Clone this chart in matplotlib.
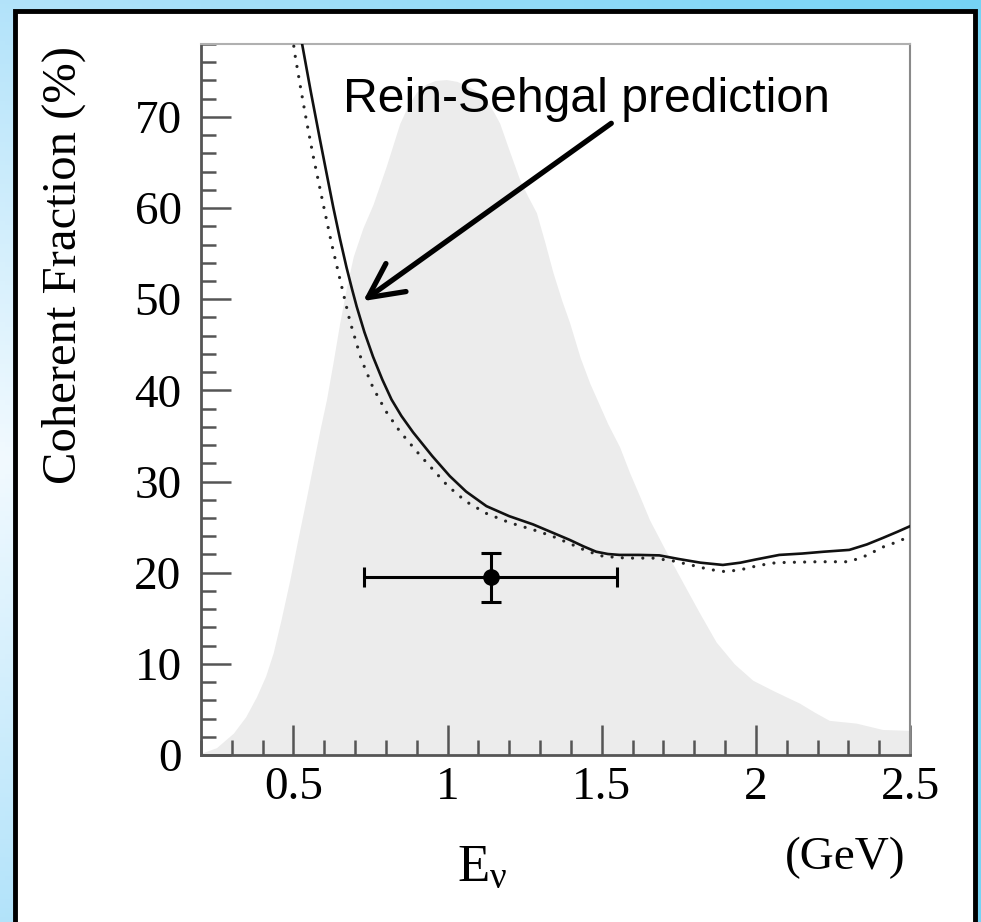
import matplotlib
matplotlib.use('Agg')
import matplotlib.pyplot as plt
import numpy as np
from matplotlib.patches import Rectangle
from matplotlib.ticker import MultipleLocator, FixedLocator

# ---- data ----
flux_E = [0.20, 0.25, 0.305, 0.345, 0.38, 0.41, 0.434, 0.46, 0.488, 0.515, 0.543, 0.566,
          0.586, 0.607, 0.628, 0.65, 0.672, 0.694, 0.725, 0.758, 0.80, 0.845, 0.875,
          0.899, 0.93, 0.96, 0.996, 1.03, 1.07, 1.10, 1.126, 1.15, 1.169, 1.20, 1.234,
          1.26, 1.288, 1.315, 1.342, 1.37, 1.396, 1.43, 1.461, 1.482, 1.52, 1.558, 1.59,
          1.623, 1.655, 1.72, 1.77, 1.817, 1.871, 1.93, 1.99, 2.06, 2.141, 2.19, 2.238,
          2.325, 2.411, 2.5]
flux_Y = [0.2, 0.8, 2.4, 4.2, 6.4, 8.7, 11.2, 14.9, 19.2, 23.8, 28.4, 32.3,
          35.7, 39.0, 43.0, 47.4, 51.3, 54.7, 57.8, 60.4, 64.5, 69.3, 71.5,
          72.7, 73.6, 74.0, 74.1, 73.9, 73.3, 72.7, 71.8, 70.5, 69.3, 66.3, 63.1,
          61.3, 59.5, 56.3, 52.9, 49.9, 47.4, 43.6, 40.8, 39.2, 36.3, 33.8, 31.0,
          28.4, 25.8, 21.6, 18.5, 15.6, 12.4, 10.0, 8.2, 7.0, 5.7, 4.7, 3.8,
          3.5, 2.8, 2.7]

rs_E = [0.515, 0.528, 0.556, 0.586, 0.608, 0.629, 0.651, 0.672, 0.690, 0.705, 0.730,
        0.758, 0.788, 0.818, 0.850, 0.888, 0.95, 1.007, 1.06, 1.126, 1.2, 1.277, 1.34,
        1.396, 1.44, 1.482, 1.52, 1.558, 1.62, 1.687, 1.75, 1.82, 1.893, 1.95, 2.0,
        2.076, 2.15, 2.22, 2.303, 2.36, 2.411, 2.46, 2.5]
rs_Y = [80.5, 78.0, 72.8, 67.5, 63.7, 60.1, 56.6, 53.5, 51.1, 49.2, 46.4,
        43.7, 41.2, 39.0, 37.2, 35.4, 32.8, 30.6, 28.9, 27.3, 26.2, 25.3, 24.4,
        23.6, 22.9, 22.3, 22.05, 21.95, 21.95, 21.9, 21.5, 21.1, 20.85, 21.1, 21.45,
        21.95, 22.1, 22.3, 22.5, 23.1, 23.8, 24.5, 25.1]

dot_E = [0.495, 0.502, 0.521, 0.542, 0.564, 0.596, 0.623, 0.65, 0.683, 0.72, 0.758,
         0.80, 0.845, 0.91, 1.001, 1.06, 1.126, 1.2, 1.288, 1.34, 1.396, 1.45, 1.504,
         1.58, 1.666, 1.73, 1.795, 1.85, 1.904, 1.96, 2.01, 2.066, 2.2, 2.303, 2.36,
         2.411, 2.46, 2.5]
dot_Y = [80.0, 77.4, 73.6, 69.6, 65.7, 60.5, 56.2, 52.3, 47.6, 43.4, 40.3,
         37.7, 35.5, 32.9, 29.5, 27.8, 26.5, 25.5, 24.6, 24.0, 23.2, 22.4, 21.8,
         21.6, 21.6, 21.3, 20.8, 20.35, 20.1, 20.4, 20.8, 21.1, 21.2, 21.2, 21.9,
         22.8, 23.4, 24.0]

meas_E = [1.14]
meas_Y = [19.5]
meas_Eerr = [0.41]
meas_Yerr = [[2.7], [2.7]]

x_ticks = [0.5, 1.0, 1.5, 2.0, 2.5]
x_ticklabels = ['0.5', '1', '1.5', '2', '2.5']
y_ticks = [0, 10, 20, 30, 40, 50, 60, 70]
y_ticklabels = ['0', '10', '20', '30', '40', '50', '60', '70']

annot_text = 'Rein-Sehgal prediction'
annot_xy = (0.726, 49.8)
annot_tail = (1.531, 69.3)

# ---- figure ----
W, H = 981, 922
fig = plt.figure(figsize=(W / 100, H / 100), dpi=100)

# blue gradient background
bg = fig.add_axes([0, 0, 1, 1], zorder=-10)
bg.set_axis_off()
yy, xx = np.mgrid[0:1:200j, 0:1:200j]
c_light = np.array([0.70, 0.89, 0.98])
c_white = np.array([0.95, 0.98, 1.0])
c_cyan = np.array([0.30, 0.79, 0.95])
t_vert = np.abs(yy - 0.5) * 2
base = c_white[None, None, :] * (1 - t_vert[..., None]) + c_light[None, None, :] * t_vert[..., None]
t_h = np.clip(xx, 0, 1)[..., None]
img = base * (1 - t_h * 0.6) + c_cyan[None, None, :] * (t_h * 0.6)
bg.imshow(img, extent=[0, 1, 0, 1], aspect='auto', origin='upper')
bg.set_xlim(0, 1)
bg.set_ylim(0, 1)

# white panel with black border
panel = Rectangle((15 / W, -0.05), (975 - 15) / W, 1.05 - 11 / H,
                  transform=fig.transFigure, facecolor='white', edgecolor='black',
                  linewidth=3.5, zorder=-5)
fig.patches.append(panel)

ax = fig.add_axes([201 / W, 1 - 755 / H, (910 - 201) / W, (755 - 44) / H])
ax.set_xlim(0.2, 2.5)
ax.set_ylim(0, 78)
ax.set_facecolor('white')

ax.fill_between(flux_E, 0, flux_Y, color='#ececec', lw=0, zorder=1)
ax.plot(dot_E, dot_Y, color='#262626', lw=2.3, linestyle=(0, (0.01, 3.2)),
        dash_capstyle='round', zorder=3)
ax.plot(rs_E, rs_Y, color='#111111', lw=1.9, zorder=4)
ax.errorbar(meas_E, meas_Y, xerr=meas_Eerr, yerr=meas_Yerr, fmt='o', color='black',
            ms=11, lw=2.2, capsize=7, capthick=2.2, zorder=5)

ax.annotate('', xy=annot_xy, xytext=annot_tail,
            arrowprops=dict(arrowstyle='->, head_length=0.4, head_width=0.2',
                            lw=3.8, color='black', mutation_scale=62,
                            shrinkA=0, shrinkB=0), zorder=6)
ax.text(0.66, 70.5, annot_text, fontsize=34.7, family='Liberation Sans',
        ha='left', va='baseline', zorder=6)

# spines and ticks
for s in ['left', 'bottom']:
    ax.spines[s].set_color('#555555')
    ax.spines[s].set_linewidth(2.0)
ax.spines['right'].set_color('#8a8a8a')
ax.spines['right'].set_linewidth(1.5)
ax.spines['top'].set_color('#b0b0b0')
ax.spines['top'].set_linewidth(1.5)

ax.xaxis.set_major_locator(FixedLocator(x_ticks))
ax.set_xticklabels(x_ticklabels)
ax.yaxis.set_major_locator(FixedLocator(y_ticks))
ax.set_yticklabels(y_ticklabels)
ax.xaxis.set_minor_locator(MultipleLocator(0.1))
ax.yaxis.set_minor_locator(MultipleLocator(2))
ax.tick_params(which='both', direction='in', top=False, right=False,
               color='#555555', width=1.8)
ax.tick_params(which='major', length=21.5)
ax.tick_params(which='minor', length=10.5)
for lab in ax.get_xticklabels() + ax.get_yticklabels():
    lab.set_fontfamily('Liberation Serif')
    lab.set_fontsize(34)
ax.tick_params(axis='x', which='major', pad=8)
ax.tick_params(axis='y', which='major', pad=14)

plt.rcParams['mathtext.fontset'] = 'custom'
plt.rcParams['mathtext.rm'] = 'Liberation Serif'
plt.rcParams['mathtext.it'] = 'Liberation Serif'
fig.text(64 / W, 1 - 265 / H, 'Coherent Fraction (%)', rotation=90, fontsize=35,
         family='Liberation Serif', ha='center', va='center')
fig.text(482 / W, 1 - 868 / H, r'E$_{\mathrm{\nu}}$', fontsize=38,
         family='Liberation Serif', ha='center', va='center')
fig.text(845 / W, 1 - 858 / H, '(GeV)', fontsize=34,
         family='Liberation Serif', ha='center', va='center')

fig.savefig('out.png', dpi=100)
